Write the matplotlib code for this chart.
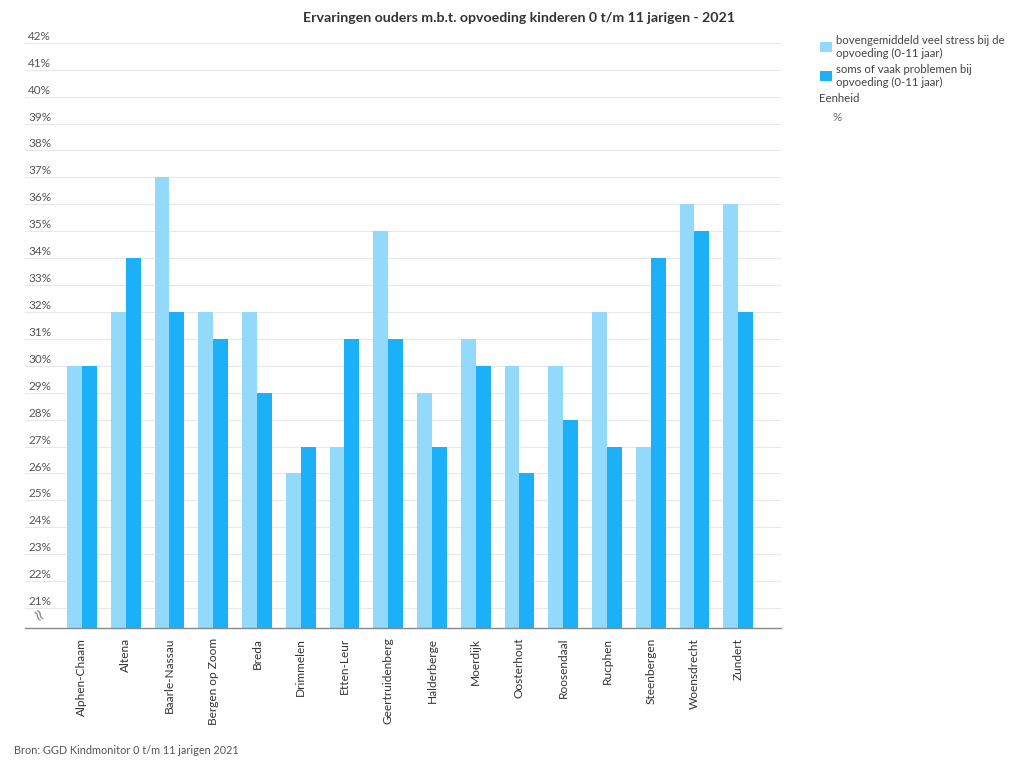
import numpy as np
import matplotlib.pyplot as plt

plt.rcParams['font.family'] = ['Lato', 'DejaVu Sans']

# Data
gemeenten = ['Alphen-Chaam', 'Altena', 'Baarle-Nassau', 'Bergen op Zoom', 'Breda',
             'Drimmelen', 'Etten-Leur', 'Geertruidenberg', 'Halderberge', 'Moerdijk',
             'Oosterhout', 'Roosendaal', 'Rucphen', 'Steenbergen', 'Woensdrecht', 'Zundert']
stress = [30, 32, 37, 32, 32, 26, 27, 35, 29, 31, 30, 30, 32, 27, 36, 36]
problemen = [30, 34, 32, 31, 29, 27, 31, 31, 27, 30, 26, 28, 27, 34, 35, 32]
yticks = list(range(21, 43))

light = '#93d9fb'
dark = '#1cb0f9'
bottom = 20.26

fig = plt.figure(figsize=(10.24, 7.68), dpi=100)
ax = fig.add_axes([0.0244, 0.1823, 0.738, 0.762])

x = np.arange(len(gemeenten))
w = 0.34
b1 = ax.bar(x - w/2, np.array(stress) - bottom, w, bottom=bottom, color=light, zorder=2,
            label='bovengemiddeld veel stress bij de\nopvoeding (0-11 jaar)')
b2 = ax.bar(x + w/2, np.array(problemen) - bottom, w, bottom=bottom, color=dark, zorder=2,
            label='soms of vaak problemen bij\nopvoeding (0-11 jaar)')

ax.set_xlim(-1.3, len(gemeenten) - 0.03)
ax.set_ylim(bottom, 42)
ax.set_yticks(yticks)
ax.set_yticklabels([])
ax.tick_params(axis='y', length=0)
ax.grid(axis='y', color='#e8e8e8', linewidth=0.8, zorder=0)
for t in yticks:
    ax.text(0.004, t + 0.24, f'{t}%', transform=ax.get_yaxis_transform(),
            fontsize=8.5, color='#555555', ha='left', va='center')
ax.text(0.016, 20.72, '≈', transform=ax.get_yaxis_transform(), rotation=-60,
        fontsize=12, color='#888888', ha='center', va='center', family='DejaVu Sans')

ax.set_xticks(x)
ax.set_xticklabels(gemeenten, rotation=90, fontsize=8.6, color='#333333')
ax.tick_params(axis='x', length=0, pad=7)

for s in ['top', 'right', 'left']:
    ax.spines[s].set_visible(False)
ax.spines['bottom'].set_color('#888888')
ax.spines['bottom'].set_linewidth(1)

fig.text(0.507, 0.977, 'Ervaringen ouders m.b.t. opvoeding kinderen 0 t/m 11 jarigen - 2021',
         ha='center', va='center', fontsize=10.2, fontweight='bold', color='#333333')

fig.legend(handles=[b1, b2], loc='upper left', bbox_to_anchor=(0.791, 0.968),
           frameon=False, fontsize=8.2, handlelength=1.0, handleheight=1.0,
           handletextpad=0.35, labelspacing=0.45, labelcolor='#444444')
fig.text(0.8, 0.872, 'Eenheid', fontsize=8.2, color='#444444', ha='left', va='center')
fig.text(0.813, 0.847, '%', fontsize=8.2, color='#666666', ha='left', va='center')

fig.text(0.014, 0.023, 'Bron: GGD Kindmonitor 0 t/m 11 jarigen 2021', fontsize=7.8,
         color='#555555', ha='left', va='center')

fig.savefig('out.png', dpi=100)
